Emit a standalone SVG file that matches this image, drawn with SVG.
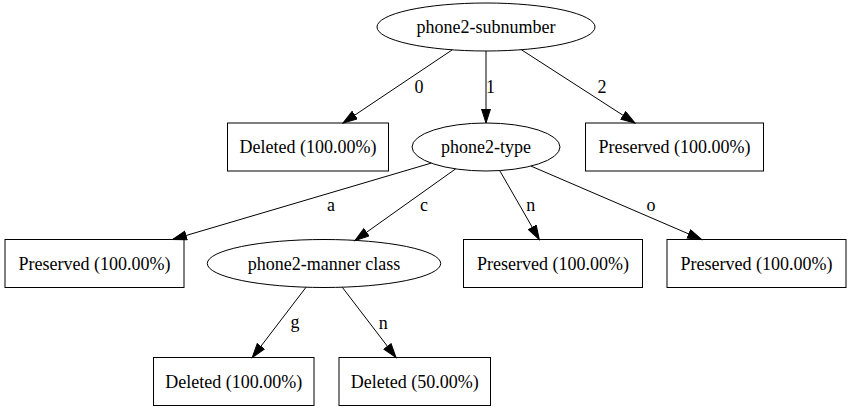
<svg xmlns="http://www.w3.org/2000/svg" width="851" height="411" viewBox="0 0 851 411">
<style>
.n{fill:none;stroke:#000;stroke-width:1}
.t{font-family:"Liberation Serif","Times New Roman",serif;font-size:18px;fill:#000;text-anchor:middle}
.e{fill:none;stroke:#000;stroke-width:1;marker-end:url(#arr)}
</style>
<defs>
<marker id="arr" markerUnits="userSpaceOnUse" markerWidth="16" markerHeight="12" refX="14.5" refY="5" orient="auto">
<path d="M0.5,0.5 L14.5,5 L0.5,9.5 Z" fill="#000" stroke="#000" stroke-width="1"/>
</marker>
</defs>
<rect x="0" y="0" width="851" height="411" fill="#fff"/>
<g id="connectors">
<line class="e" x1="452.3" y1="49.8" x2="343" y2="123"/>
<line class="e" x1="486" y1="51" x2="486" y2="123"/>
<line class="e" x1="521.3" y1="49.7" x2="635" y2="123"/>
<line class="e" x1="431.2" y1="163.1" x2="172.5" y2="239.5"/>
<line class="e" x1="455.6" y1="168.9" x2="355" y2="240.5"/>
<line class="e" x1="499.7" y1="170.6" x2="539.3" y2="239.5"/>
<line class="e" x1="531" y1="166.1" x2="701.7" y2="239.5"/>
<line class="e" x1="306" y1="287.3" x2="252.3" y2="357.5"/>
<line class="e" x1="342.3" y1="287.3" x2="396" y2="357.5"/>
<text class="t" x="419" y="93">0</text>
<text class="t" x="490.5" y="93">1</text>
<text class="t" x="602" y="93">2</text>
<text class="t" x="331" y="211">a</text>
<text class="t" x="424" y="211">c</text>
<text class="t" x="530.7" y="211">n</text>
<text class="t" x="651" y="211">o</text>
<text class="t" x="295" y="328">g</text>
<text class="t" x="383.3" y="329">n</text>
</g>
<g id="root">
<ellipse class="n" cx="486" cy="27" rx="109" ry="24"/>
<text class="t" x="486" y="33">phone2-subnumber</text>
</g>
<g id="del0">
<rect class="n" x="227.5" y="123" width="161" height="48"/>
<text class="t" x="308" y="153">Deleted (100.00%)</text>
</g>
<g id="type">
<ellipse class="n" cx="486" cy="147" rx="74" ry="24"/>
<text class="t" x="486" y="153">phone2-type</text>
</g>
<g id="pres2">
<rect class="n" x="585.5" y="123" width="178" height="48"/>
<text class="t" x="674.5" y="153">Preserved (100.00%)</text>
</g>
<g id="presA">
<rect class="n" x="5" y="239.5" width="179" height="48"/>
<text class="t" x="94.5" y="269.5">Preserved (100.00%)</text>
</g>
<g id="manner">
<ellipse class="n" cx="324" cy="263.5" rx="116.7" ry="24"/>
<text class="t" x="324" y="269.5">phone2-manner class</text>
</g>
<g id="presN">
<rect class="n" x="463.5" y="239.5" width="179" height="48"/>
<text class="t" x="553" y="269.5">Preserved (100.00%)</text>
</g>
<g id="presO">
<rect class="n" x="667" y="239.5" width="179" height="48"/>
<text class="t" x="756.5" y="269.5">Preserved (100.00%)</text>
</g>
<g id="delG">
<rect class="n" x="153.5" y="357.5" width="160.5" height="48"/>
<text class="t" x="233.7" y="387.5">Deleted (100.00%)</text>
</g>
<g id="delN">
<rect class="n" x="339" y="357.5" width="151.5" height="48"/>
<text class="t" x="414.8" y="387.5">Deleted (50.00%)</text>
</g>
</svg>
